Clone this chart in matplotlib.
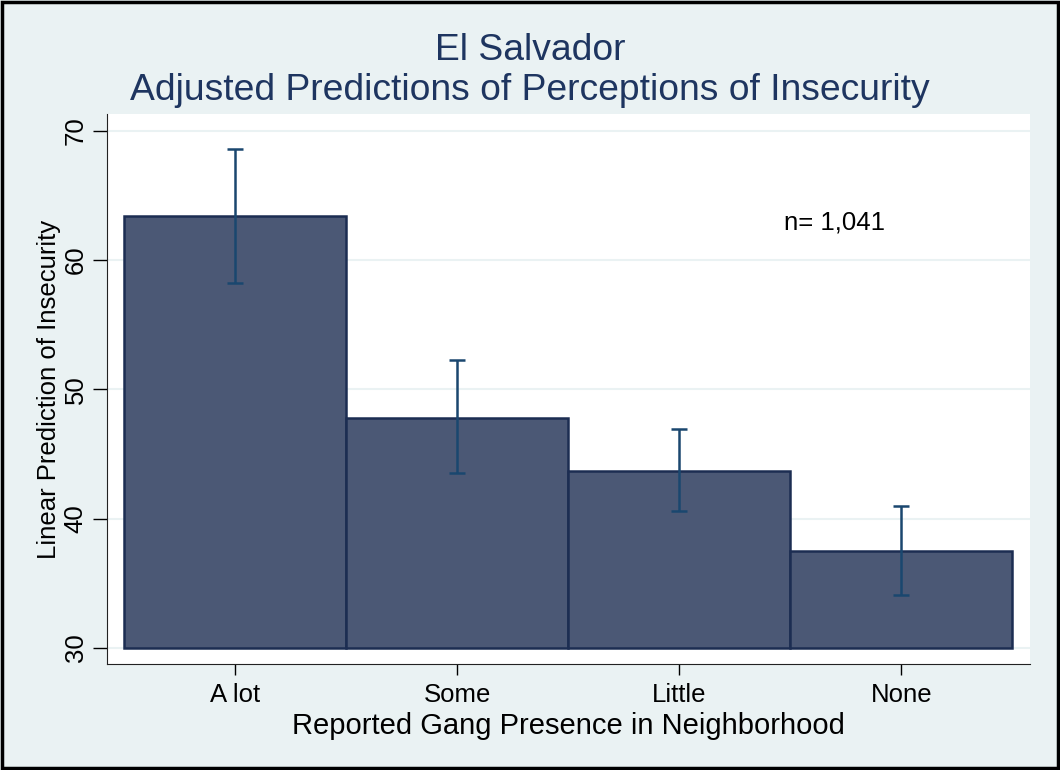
import numpy as np
import matplotlib.pyplot as plt
from matplotlib.patches import Rectangle

plt.rcParams['font.family'] = ['Liberation Sans', 'DejaVu Sans']

categories = ["A lot", "Some", "Little", "None"]
margins = [63.4, 47.8, 43.7, 37.5]
ci_low = [58.2, 43.5, 40.6, 34.1]
ci_high = [68.6, 52.3, 46.9, 41.0]
yticks = [30, 40, 50, 60, 70]

bg = '#eaf2f3'
fig = plt.figure(figsize=(10.6, 7.7), dpi=100, facecolor=bg)
ax = fig.add_axes([107/1060, 1 - 664/770, (1030-107)/1060, (664-114)/770])
ax.set_facecolor('white')

x = np.arange(1, len(categories) + 1)
base = 30
ax.bar(x, np.array(margins) - base, bottom=base, width=1.0,
       color='#4b5875', edgecolor='#1c2d52', linewidth=1.8, zorder=2)
m = np.array(margins)
ax.errorbar(x, m, yerr=[m - np.array(ci_low), np.array(ci_high) - m],
            fmt='none', ecolor='#1a476f', elinewidth=1.8, capsize=6,
            capthick=1.8, zorder=3)

ax.set_xlim(0.423, 4.58)
ax.set_ylim(28.76, 71.3)
ax.set_yticks(yticks)
ax.set_yticklabels([str(t) for t in yticks], rotation=90, va='center')
ax.set_xticks(x)
ax.set_xticklabels(categories)
ax.grid(axis='y', color=bg, linewidth=1.5, zorder=0)
ax.set_axisbelow(True)
ax.tick_params(axis='y', length=10, width=1, labelsize=18.5, pad=4)
ax.tick_params(axis='x', length=8, width=1, labelsize=18.5, pad=6)
for s in ['top', 'right']:
    ax.spines[s].set_visible(False)
for s in ['left', 'bottom']:
    ax.spines[s].set_color('#222222')

ax.set_xlabel("Reported Gang Presence in Neighborhood", fontsize=21, labelpad=3)
ax.set_ylabel("Linear Prediction of Insecurity", fontsize=18.5, labelpad=2)
ax.text(3.47, 62.9, "n= 1,041", fontsize=18.5, va='center', ha='left')

fig.text(0.5, 1 - 50/770, "El Salvador", ha='center', va='center',
         fontsize=26.8, color='#1e3560')
fig.text(0.5, 1 - 90/770, "Adjusted Predictions of Perceptions of Insecurity",
         ha='center', va='center', fontsize=26.8, color='#1e3560')

fig.patches.append(Rectangle((0.002, 0.002), 0.996, 0.996, transform=fig.transFigure,
                             fill=False, edgecolor='black', linewidth=2.5))

fig.savefig('out.png', dpi=100, facecolor=bg)
